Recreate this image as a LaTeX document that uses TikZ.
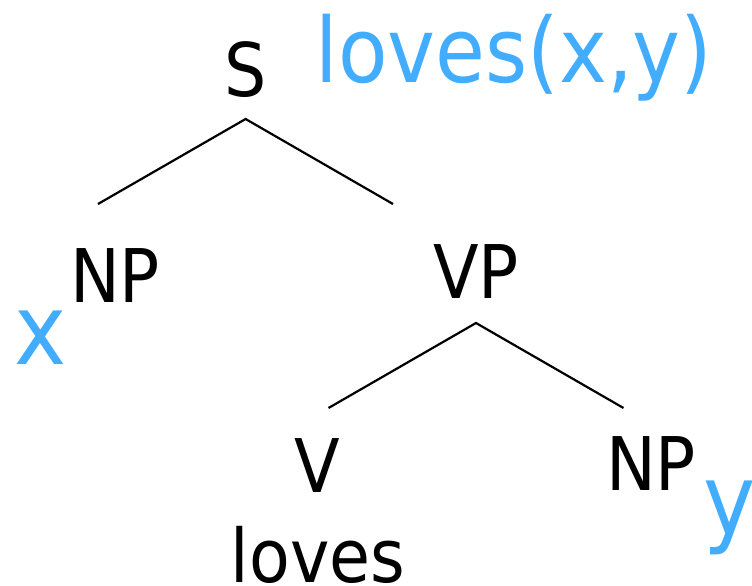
\documentclass[tikz,border=0pt]{standalone}
\usepackage{fontspec}
\setmainfont{DejaVu Sans Condensed}
\definecolor{semblue}{RGB}{66,172,255}
\begin{document}
\begin{tikzpicture}[x=1pt,y=-1pt,
  cat/.style={anchor=base,inner sep=0pt,font=\fontsize{74}{90}\selectfont},
  sem/.style={anchor=base,inner sep=0pt,text=semblue,font=\fontsize{90}{110}\selectfont},
  var/.style={anchor=base,inner sep=0pt,text=semblue,font=\fontsize{98}{118}\selectfont},
  branch/.style={line width=2.2pt,line cap=butt}]
\useasboundingbox (0,0) rectangle (752,586);

% categories
\node[cat] (s)   at (246,96)  {S};
\node[cat] (np1) at (115,302) {NP};
\node[cat] (vp)  at (476,298) {VP};
\node[cat] (v)   at (317,492) {V};
\node[cat] (np2) at (651,490) {NP};
\node[cat] (lex) at (318,582) {loves};

% semantics
\node[sem] (lf) at (514,82)  {loves(x,y)};
\node[var] (vx) at (41,364)  {x};
\node[var] (vy) at (730,534) {y};

% branch end points
\coordinate (sTop)  at (245.6,119);
\coordinate (sL)    at (98,204);
\coordinate (sR)    at (393,204);
\coordinate (vpTop) at (476,323);
\coordinate (vpL)   at (328.5,408);
\coordinate (vpR)   at (623.5,408);

\draw[branch] (sL) -- (sTop) -- (sR);
\draw[branch] (vpL) -- (vpTop) -- (vpR);
\end{tikzpicture}
\end{document}
